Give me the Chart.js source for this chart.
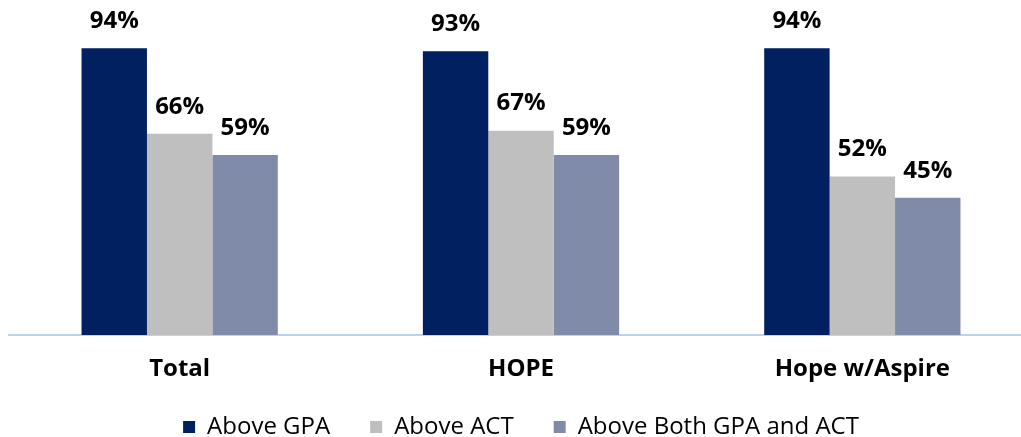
<!DOCTYPE html>
<html lang="en">
<head>
    <meta charset="UTF-8">
    <title>Above GPA / ACT</title>
    <script src="https://cdn.jsdelivr.net/npm/chart.js@4.4.1/dist/chart.umd.min.js"></script>
    <style>
        html, body { margin: 0; padding: 0; background: #fff; overflow: hidden; }
        #wrap { width: 1042px; height: 437px; }
    </style>
</head>
<body>
<div id="wrap"><canvas id="chart" width="1042" height="437"></canvas></div>

<script>
    const groups = ['Total', 'HOPE', 'Hope w/Aspire'];
    const aboveGpa = [94, 93, 94];
    const aboveAct = [66, 67, 52];
    const aboveBoth = [59, 59, 45];

    // value labels above each bar
    const barLabels = {
        id: 'barLabels',
        afterDatasetsDraw(chart) {
            const ctx = chart.ctx;
            ctx.save();
            ctx.font = 'bold 24px "Open Sans"';
            ctx.fillStyle = '#000';
            ctx.textAlign = 'center';
            ctx.textBaseline = 'middle';
            chart.data.datasets.forEach((ds, i) => {
                chart.getDatasetMeta(i).data.forEach((bar, j) => {
                    ctx.fillText(ds.data[j] + '%', bar.x, bar.y - 27);
                });
            });
            ctx.restore();
        }
    };

    const ctx = document.getElementById('chart').getContext('2d');
    const myChart = new Chart(ctx, {
        type: 'bar',
        data: {
            labels: groups,
            datasets: [
                { label: 'Above GPA', data: aboveGpa, backgroundColor: '#002060' },
                { label: 'Above ACT', data: aboveAct, backgroundColor: '#bfbfbf' },
                { label: 'Above Both GPA and ACT', data: aboveBoth, backgroundColor: '#7f8ba9' }
            ]
        },
        options: {
            responsive: false,
            animation: false,
            layout: { padding: { left: 9, right: 9, top: 30, bottom: -12 } },
            datasets: { bar: { categoryPercentage: 0.575, barPercentage: 1 } },
            scales: {
                x: {
                    grid: { display: false, drawTicks: false },
                    border: { color: '#bcd3ee', width: 2 },
                    ticks: { color: '#000', padding: 20, font: { family: 'Open Sans', size: 24, weight: 'bold' } },
                    afterFit(scale) {
                        // squeeze the axis box so the legend sits closer; don't clip the labels
                        scale.height = 40;
                        scale._computeLabelArea = () => undefined;
                    }
                },
                y: { display: false, min: 0, max: 100 }
            },
            plugins: {
                legend: {
                    position: 'bottom',
                    labels: {
                        color: '#000',
                        boxWidth: 12,
                        boxHeight: 12,
                        padding: 40,
                        font: { family: 'Open Sans', size: 24 }
                    }
                },
                tooltip: { enabled: false }
            }
        },
        plugins: [barLabels]
    });
</script>
</body>
</html>
